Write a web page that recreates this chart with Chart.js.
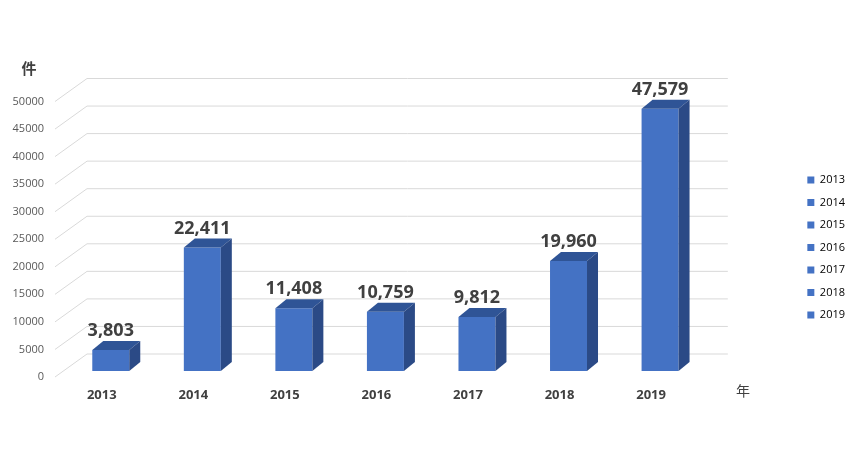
<!DOCTYPE html>
<html>
<head>
<meta charset="utf-8">
<script src="https://cdn.jsdelivr.net/npm/chart.js@4.4.1/dist/chart.umd.min.js"></script>
<style>
  html, body { margin: 0; padding: 0; background: #fff; }
  #wrap { width: 855px; height: 452px; }
</style>
</head>
<body>
<div id="wrap"><canvas id="myChart" width="855" height="452"></canvas></div>
<script>
const years = ["2013", "2014", "2015", "2016", "2017", "2018", "2019"];
const counts = [3803, 22411, 11408, 10759, 9812, 19960, 47579];
const yTicks = [0, 5000, 10000, 15000, 20000, 25000, 30000, 35000, 40000, 45000, 50000];

const FONT = "'Open Sans', 'Noto Sans CJK JP', sans-serif";
const front = "#4472C4";
const topFace = "#2F5496";
const sideFace = "#2B4A86";
const gridColor = "#D9D9D9";

// depth of the bars and of the back wall
const DX = 11, DY = 9;
const WALL_DX = 22, WALL_DY = 17, FRONT_DX = -10, FRONT_DY = 6;

const wallPlugin = {
  id: "wall",
  beforeDatasetsDraw(chart) {
    const { ctx, chartArea } = chart;
    const y = chart.scales.y;
    ctx.save();
    ctx.strokeStyle = gridColor;
    ctx.lineWidth = 1;
    yTicks.forEach(v => {
      const py = y.getPixelForValue(v);
      ctx.beginPath();
      ctx.moveTo(chartArea.left + FRONT_DX, py + FRONT_DY);
      ctx.lineTo(chartArea.left + WALL_DX, py - WALL_DY);
      ctx.lineTo(chartArea.right + WALL_DX, py - WALL_DY);
      ctx.stroke();
    });
    ctx.restore();
  },
  afterDatasetsDraw(chart) {
    const { ctx } = chart;
    const meta = chart.getDatasetMeta(0);
    ctx.save();
    meta.data.forEach((bar, i) => {
      const p = bar.getProps(["x", "y", "base", "width"], true);
      const x1 = p.x - p.width / 2, x2 = p.x + p.width / 2;
      // top face
      ctx.fillStyle = topFace;
      ctx.beginPath();
      ctx.moveTo(x1, p.y);
      ctx.lineTo(x1 + DX, p.y - DY);
      ctx.lineTo(x2 + DX, p.y - DY);
      ctx.lineTo(x2, p.y);
      ctx.closePath();
      ctx.fill();
      // side face
      ctx.fillStyle = sideFace;
      ctx.beginPath();
      ctx.moveTo(x2, p.y);
      ctx.lineTo(x2 + DX, p.y - DY);
      ctx.lineTo(x2 + DX, p.base - DY);
      ctx.lineTo(x2, p.base);
      ctx.closePath();
      ctx.fill();
      // value label
      ctx.fillStyle = "#404040";
      ctx.font = "bold 18px " + FONT;
      ctx.textAlign = "center";
      ctx.textBaseline = "alphabetic";
      ctx.fillText(counts[i].toLocaleString("en-US"), p.x, p.y - DY - 5);
    });
    // axis unit labels
    ctx.fillStyle = "#404040";
    ctx.textBaseline = "middle";
    ctx.textAlign = "center";
    ctx.font = "bold 15px " + FONT;
    ctx.fillText("件", 29, 70);
    ctx.font = "14px " + FONT;
    ctx.fillText("年", 743, 392);
    ctx.restore();
  }
};

new Chart(document.getElementById("myChart"), {
  type: "bar",
  data: {
    labels: years,
    datasets: [{
      data: counts,
      backgroundColor: front,
      categoryPercentage: 1,
      barPercentage: 0.404
    }]
  },
  options: {
    responsive: false,
    animation: false,
    layout: { padding: { top: 43, right: 0, bottom: 0, left: 0 } },
    plugins: {
      tooltip: { enabled: false },
      legend: {
        position: "right",
        align: "center",
        labels: {
          boxWidth: 7,
          boxHeight: 7,
          padding: 11.5,
          color: "#595959",
          font: { family: FONT, size: 11 },
          generateLabels: () => years.map(t => ({
            text: t, fillStyle: front, strokeStyle: front, lineWidth: 0, hidden: false
          }))
        }
      }
    },
    scales: {
      x: {
        grid: { display: false, drawTicks: false },
        border: { display: false },
        ticks: {
          color: "#404040",
          padding: 16,
          labelOffset: -9,
          maxRotation: 0,
          font: { family: FONT, size: 13, weight: "bold" }
        },
        afterFit: s => { s.height = 81; }
      },
      xTop: {
        axis: "x",
        position: "top",
        grid: { display: false, drawTicks: false },
        border: { display: false },
        ticks: { display: false },
        afterFit: s => { s.height = 52.5; }
      },
      y: {
        min: 0,
        max: 50000,
        grid: { display: false, drawTicks: false },
        border: { display: false },
        ticks: {
          stepSize: 5000,
          padding: 21,
          labelOffset: 6,
          color: "#595959",
          font: { family: FONT, size: 11 },
          callback: v => String(v)
        },
        afterFit: s => { s.width = 65; }
      },
      yRight: {
        axis: "y",
        position: "right",
        grid: { display: false, drawTicks: false },
        border: { display: false },
        ticks: { display: false },
        afterFit: s => { s.width = 90; }
      }
    }
  },
  plugins: [wallPlugin]
});
</script>
</body>
</html>
